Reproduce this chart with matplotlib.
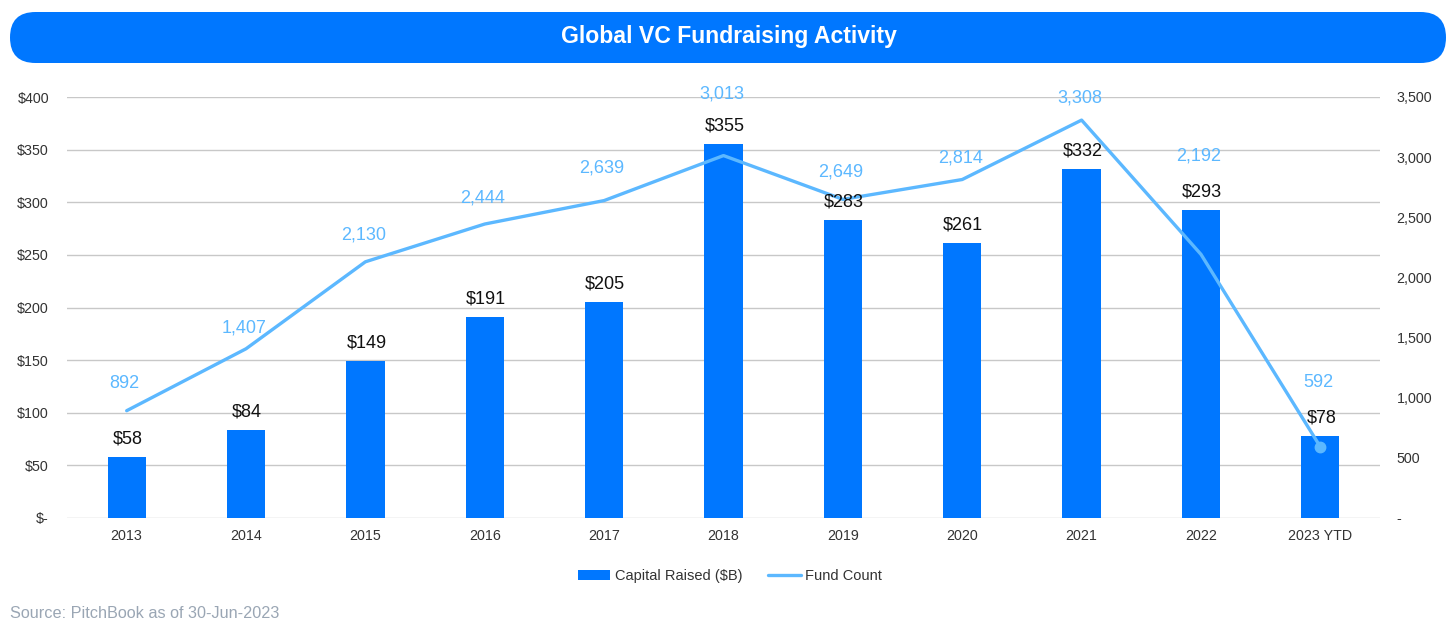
import matplotlib
matplotlib.use("Agg")
import matplotlib.pyplot as plt
from matplotlib.patches import FancyBboxPatch
from matplotlib.ticker import FuncFormatter

plt.rcParams['font.family'] = ['Liberation Sans', 'DejaVu Sans']

years = ["2013", "2014", "2015", "2016", "2017", "2018", "2019", "2020", "2021", "2022", "2023 YTD"]
capital = [58, 84, 149, 191, 205, 355, 283, 261, 332, 293, 78]
fund_count = [892, 1407, 2130, 2444, 2639, 3013, 2649, 2814, 3308, 2192, 592]

# label vertical offsets (pixels) for fund count labels
fc_offsets = [27, 21, 27, 26, 33, 62, 27, 22, 22, 98, 64]

BAR = "#0077FF"
LINE = "#5CB8FF"
W, H = 1456, 635

fig = plt.figure(figsize=(W/100, H/100), dpi=100)

# background axes in pixel units for the title banner
bg = fig.add_axes([0, 0, 1, 1], zorder=-1)
bg.set_xlim(0, W)
bg.set_ylim(H, 0)
bg.axis('off')
bg.add_patch(FancyBboxPatch((10, 12), 1436, 51,
                            boxstyle="round,pad=0,rounding_size=25.5",
                            facecolor=BAR, edgecolor='none'))
bg.text(W/2 + 1, 37, "Global VC Fundraising Activity", color='white',
        fontsize=16.6, fontweight='bold', ha='center', va='center')

ax = fig.add_axes([67/W, 1-518/H, (1380-67)/W, (518-97)/H])
x = list(range(len(years)))
ax.bar(x, capital, width=0.32, color=BAR, zorder=2, label="Capital Raised ($B)")
ax.set_ylim(0, 400)
ax.set_xlim(-0.5, len(years)-0.5)
ax.set_yticks(range(0, 401, 50))
ax.yaxis.set_major_formatter(FuncFormatter(lambda v, p: "$-" if v == 0 else f"${int(v)}"))
ax.set_xticks(x)
ax.set_xticklabels(years)
ax.grid(axis='y', color='#C8C8C8', linewidth=1, zorder=0)
ax.set_axisbelow(True)
ax.patch.set_alpha(0)
for s in ax.spines.values():
    s.set_visible(False)
ax.tick_params(axis='both', length=0, labelsize=10.3, colors='#333333')
ax.tick_params(axis='x', pad=8)
ax.tick_params(axis='y', pad=13)

ax2 = ax.twinx()
ax2.set_ylim(0, 3500)
ax2.set_yticks(range(0, 3501, 500))
ax2.yaxis.set_major_formatter(FuncFormatter(lambda v, p: "-" if v == 0 else f"{int(v):,}"))
for s in ax2.spines.values():
    s.set_visible(False)
ax2.tick_params(axis='y', length=0, labelsize=10.3, colors='#333333', pad=12)
ln, = ax2.plot(x, fund_count, color=LINE, linewidth=2.4, zorder=3, label="Fund Count",
               solid_capstyle='round')
ax2.plot([x[-1]], [fund_count[-1]], 'o', color=LINE, markersize=7.5, zorder=4)
for xi, v, off in zip(x, fund_count, fc_offsets):
    ax2.annotate(f"{v:,}", (xi, v), xytext=(-2, off), textcoords='offset pixels',
                 ha='center', va='center', fontsize=13, color=LINE, zorder=5)
# bar value labels drawn on top of the line
for xi, v in zip(x, capital):
    ax2.annotate(f"${v}", (xi, v), xycoords=ax.transData, xytext=(1, 18),
                 textcoords='offset pixels', ha='center', va='center',
                 fontsize=13, color='#111111', zorder=6)

handles = [ax.patches[0], ln]
fig.legend(handles, ["Capital Raised ($B)", "Fund Count"], loc='center',
           bbox_to_anchor=(0.5 + 2/W, 1-576/H), ncol=2, frameon=False, fontsize=10.5,
           handlelength=2.2, columnspacing=1.8, handletextpad=0.3,
           labelcolor='#333333')

fig.text(10/W, 1-613/H, "Source: PitchBook as of 30-Jun-2023", color='#9AA6B4',
         fontsize=11.7, ha='left', va='center')

fig.savefig("out.png", dpi=100)
